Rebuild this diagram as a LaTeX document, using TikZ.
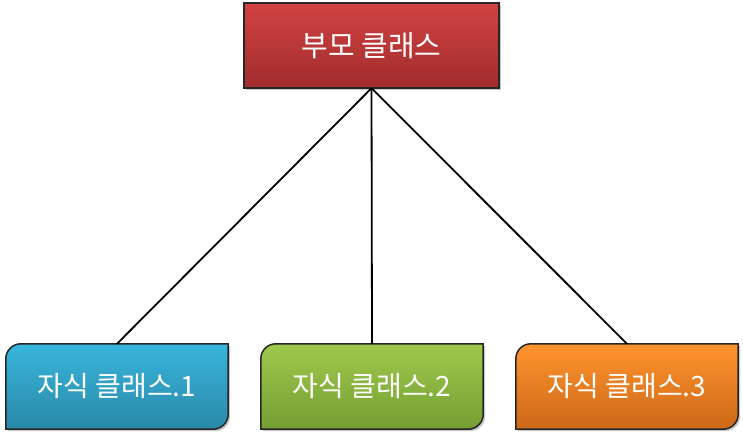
\documentclass[tikz,border=0pt]{standalone}
\usepackage{fontspec}
\newfontfamily\kr{Noto Sans CJK KR}
\usetikzlibrary{shadows}
\pgfdeclarelayer{background}
\pgfsetlayers{background,main}
\definecolor{redtop}{HTML}{D24242}
\definecolor{redbot}{HTML}{A02C2C}
\definecolor{bluetop}{HTML}{38B6DC}
\definecolor{bluebot}{HTML}{2A88A8}
\definecolor{greentop}{HTML}{9FC94C}
\definecolor{greenbot}{HTML}{749E32}
\definecolor{orangetop}{HTML}{FF942E}
\definecolor{orangebot}{HTML}{CC6818}
\definecolor{edge}{HTML}{262626}
\tikzset{
  parentbox/.style={minimum width=255pt, minimum height=85pt, inner sep=0pt,
    text=white, font=\kr\fontsize{29}{34}\selectfont},
  childbox/.style={minimum width=222pt, minimum height=85pt, inner sep=0pt,
    text=white, font=\kr\fontsize{28}{34}\selectfont},
  boxline/.style={draw=edge, line width=1.5pt},
  shade/.style={drop shadow={shadow xshift=2pt, shadow yshift=-2pt, opacity=0.25}},
  link/.style={draw=black, line width=1.8pt}
}
\begin{document}
\begin{tikzpicture}[x=1pt,y=-1pt]
\useasboundingbox (0,0) rectangle (743,438);
\node[parentbox] (p) at (371.5,45.5) {부모 클래스};
\node[childbox] (c1) at (117,386.5) {자식 클래스.1};
\node[childbox] (c2) at (372,386.5) {자식 클래스.2};
\node[childbox] (c3) at (627,386.5) {자식 클래스.3};
\begin{pgfonlayer}{background}
\shadedraw[boxline, shade, top color=redtop, bottom color=redbot] (p.north west) rectangle (p.south east);
\foreach \n/\c in {c1/blue, c2/green, c3/orange}{
  \shadedraw[boxline, shade, top color=\c top, bottom color=\c bot]
    ([yshift=-15pt]\n.north west) arc[start angle=180, end angle=90, radius=15pt]
    -- (\n.north east) -- ([yshift=15pt]\n.south east)
    arc[start angle=0, end angle=-90, radius=15pt] -- (\n.south west) -- cycle;
}
\draw[link] (p.south) -- (c1.north);
\draw[link] (p.south) -- (c2.north);
\draw[link] (p.south) -- (c3.north);
\end{pgfonlayer}
\end{tikzpicture}
\end{document}
